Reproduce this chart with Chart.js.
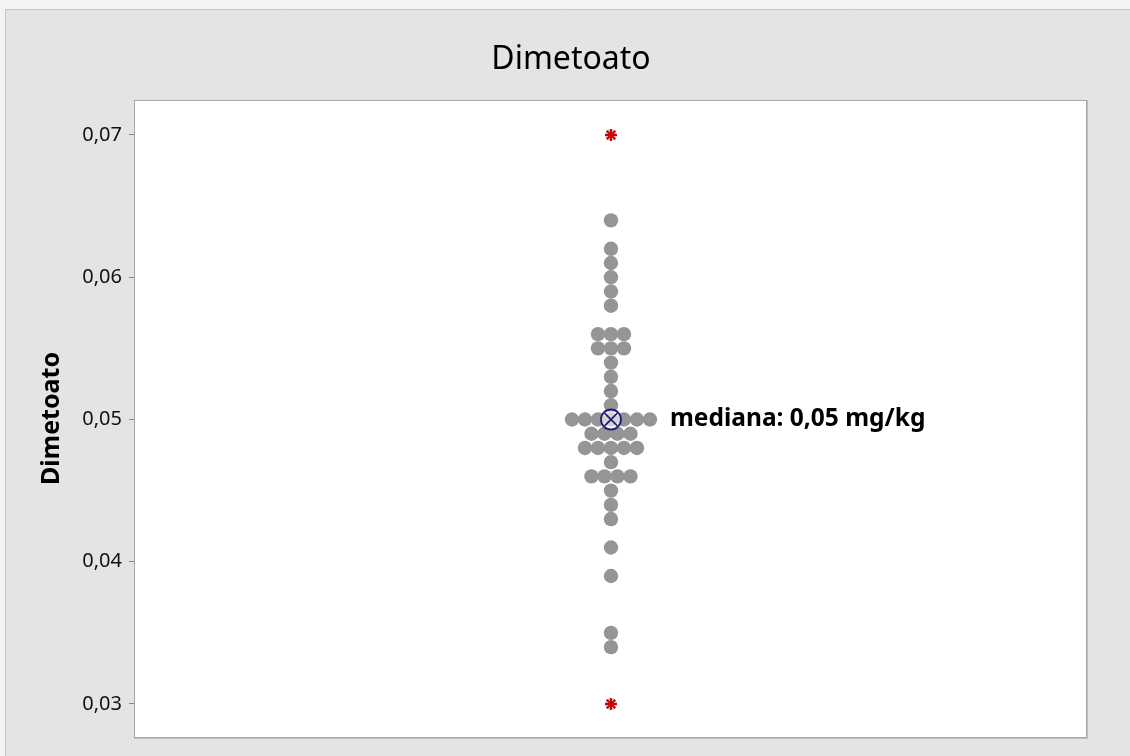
<!DOCTYPE html>
<html><head><meta charset="utf-8">
<script src="https://cdn.jsdelivr.net/npm/chart.js@4"></script>
<style>html,body{margin:0;padding:0;background:#f3f3f3;overflow:hidden}#wrap{width:1130px;height:756px;position:relative}</style>
</head><body><div id="wrap"><canvas id="c" width="1130" height="756"></canvas></div>
<script>
// ---- data ----
const chartTitle = "Dimetoato";
const axisTitle = "Dimetoato";
const tickValues = [0.03, 0.04, 0.05, 0.06, 0.07];
const tickLabels = ["0,03", "0,04", "0,05", "0,06", "0,07"];
const observations = [
  0.064, 0.062, 0.061, 0.060, 0.059, 0.058,
  0.056, 0.056, 0.056, 0.055, 0.055, 0.055,
  0.054, 0.053, 0.052, 0.051,
  0.050, 0.050, 0.050, 0.050, 0.050, 0.050, 0.050,
  0.049, 0.049, 0.049, 0.049,
  0.048, 0.048, 0.048, 0.048, 0.048,
  0.047,
  0.046, 0.046, 0.046, 0.046,
  0.045, 0.044, 0.043, 0.041, 0.039, 0.035, 0.034
];
const outliers = [0.070, 0.030];
const medianValue = 0.05;
const medianLabel = "mediana: 0,05 mg/kg";

// ---- stacking of equal values side by side ----
function stack(vals) {
  const groups = new Map();
  vals.forEach(v => { const k = v.toFixed(4); if (!groups.has(k)) groups.set(k, []); groups.get(k).push(v); });
  const pts = [];
  groups.forEach(g => { const n = g.length; g.forEach((v, i) => pts.push({ x: i - (n - 1) / 2, y: v })); });
  return pts;
}
const dotPoints = stack(observations);
const outlierPoints = outliers.map(v => ({ x: 0, y: v }));
const medianPoints = [{ x: 0, y: medianValue }];

const FONT = "'Noto Sans', 'Open Sans', sans-serif";

const framePlugin = {
  id: 'frame',
  beforeDraw(chart) {
    const ctx = chart.ctx, a = chart.chartArea;
    ctx.save();
    ctx.fillStyle = '#f3f3f3';
    ctx.fillRect(0, 0, chart.width, chart.height);
    ctx.fillStyle = '#e4e4e4';
    ctx.fillRect(5, 9, chart.width - 5, chart.height - 9);
    ctx.strokeStyle = '#c6c6c6';
    ctx.lineWidth = 1;
    ctx.beginPath();
    ctx.moveTo(5.5, chart.height); ctx.lineTo(5.5, 9.5); ctx.lineTo(chart.width, 9.5);
    ctx.stroke();
    ctx.fillStyle = '#ffffff';
    ctx.fillRect(a.left, a.top, a.right - a.left, a.bottom - a.top);
    ctx.strokeStyle = '#a9a9a9';
    ctx.lineWidth = 1;
    ctx.strokeRect(a.left + 0.5, a.top + 0.5, a.right - a.left, a.bottom - a.top);
    ctx.strokeStyle = '#bdbdbd';
    ctx.beginPath();
    ctx.moveTo(a.right + 1.5, a.top); ctx.lineTo(a.right + 1.5, a.bottom + 1.5); ctx.lineTo(a.left, a.bottom + 1.5);
    ctx.stroke();
    // y-axis title
    ctx.translate(52, (a.top + a.bottom) / 2);
    ctx.rotate(-Math.PI / 2);
    ctx.fillStyle = '#000';
    ctx.font = 'bold 25px ' + FONT;
    ctx.textAlign = 'center';
    ctx.textBaseline = 'middle';
    ctx.fillText(axisTitle, 0, 0);
    ctx.restore();
  },
  afterDatasetsDraw(chart) {
    const ctx = chart.ctx;
    const xs = chart.scales.x, ys = chart.scales.y;
    ctx.save();
    ctx.fillStyle = '#000';
    ctx.font = 'bold 24.5px ' + FONT;
    ctx.textAlign = 'left';
    ctx.textBaseline = 'middle';
    ctx.fillText(medianLabel, xs.getPixelForValue(0) + 59, ys.getPixelForValue(medianValue));
    ctx.restore();
  }
};

new Chart(document.getElementById('c'), {
  type: 'scatter',
  data: {
    datasets: [
      { data: dotPoints, order: 5, pointRadius: 7.2, pointHoverRadius: 7.2, backgroundColor: '#959595', borderWidth: 0 },
      { data: outlierPoints, order: 4, pointRadius: 6, pointHoverRadius: 6, backgroundColor: '#c4c4c4', borderWidth: 0 },
      { data: outlierPoints, order: 3, pointStyle: 'star', pointRadius: 6, borderColor: '#d10000', backgroundColor: '#d10000', borderWidth: 2 },
      { data: medianPoints, order: 2, pointStyle: 'circle', pointRadius: 10, borderColor: '#1e1e78', backgroundColor: 'rgba(255,255,255,0.6)', borderWidth: 1.8 },
      { data: medianPoints, order: 1, pointStyle: 'crossRot', pointRadius: 9, borderColor: '#1e1e78', borderWidth: 1.8 }
    ]
  },
  options: {
    responsive: false,
    animation: false,
    devicePixelRatio: 1,
    layout: { padding: { left: 56, top: 0, right: 44, bottom: 17 } },
    plugins: {
      legend: { display: false },
      tooltip: { enabled: false },
      title: {
        display: true, text: chartTitle, color: '#000',
        font: { family: FONT, size: 32, weight: 'normal', lineHeight: 1.2 },
        padding: { top: 41, bottom: 20.6 }
      }
    },
    scales: {
      x: { type: 'linear', display: false, min: -36.7, max: 36.55 },
      y: {
        type: 'linear', min: 0.02768, max: 0.07246,
        afterFit(s) { s.width = 78; },
        afterBuildTicks(s) { s.ticks = tickValues.map(v => ({ value: v })); },
        ticks: {
          color: '#111', padding: 7,
          font: { family: FONT, size: 20 },
          callback(v) { const i = tickValues.findIndex(t => Math.abs(t - v) < 1e-9); return i >= 0 ? tickLabels[i] : ''; }
        },
        grid: { drawOnChartArea: false, drawTicks: true, tickLength: 5, color: '#8a8a8a' },
        border: { display: false }
      }
    }
  },
  plugins: [framePlugin]
});
</script>
</body></html>
